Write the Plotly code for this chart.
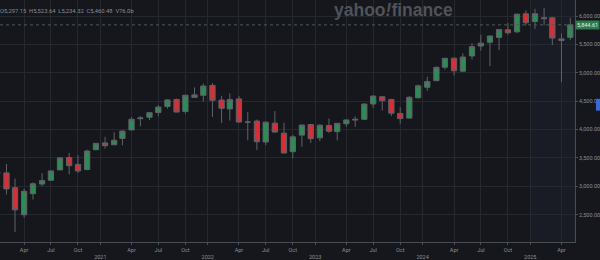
import plotly.graph_objects as go
import pandas as pd

# ---- data (S&P 500 monthly OHLC, Jan 2020 .. May 2025) ----
months = pd.date_range("2020-01-01", "2025-05-01", freq="MS")

opens = [3244.67, 3235.66, 2974.28, 2498.08, 2869.09, 3038.78, 3105.92, 3288.26, 3507.44, 3385.87, 3296.20, 3645.87,
         3764.61, 3731.17, 3842.51, 3992.78, 4191.98, 4216.52, 4300.73, 4406.86, 4528.80, 4317.16, 4610.62, 4602.82,
         4778.14, 4519.57, 4363.14, 4540.32, 4130.61, 4149.78, 3781.00, 4112.38, 3936.73, 3609.78, 3901.79, 4087.14,
         3853.29, 4070.07, 3963.34, 4102.20, 4166.79, 4181.00, 4450.48, 4578.83, 4530.60, 4284.52, 4201.27, 4559.43,
         4745.20, 4861.11, 5098.51, 5257.97, 5029.03, 5297.15, 5471.08, 5537.84, 5623.89, 5757.73, 5723.22, 6040.11,
         5903.26, 5969.65, 5968.33, 5597.53, 5625.14]
highs = [3337.77, 3393.52, 3136.72, 2954.86, 3068.67, 3233.13, 3279.99, 3514.77, 3588.11, 3549.85, 3645.99, 3760.20,
         3870.90, 3950.43, 3983.87, 4218.78, 4238.04, 4302.43, 4429.97, 4537.36, 4545.85, 4608.08, 4743.83, 4808.93,
         4818.62, 4595.31, 4637.30, 4593.45, 4307.66, 4177.51, 4140.15, 4325.28, 4119.28, 3905.42, 4080.11, 4100.96,
         4094.21, 4195.44, 4110.75, 4170.06, 4231.10, 4458.48, 4607.07, 4584.62, 4541.25, 4393.57, 4587.64, 4793.30,
         4931.09, 5111.06, 5264.85, 5263.95, 5341.88, 5523.64, 5669.67, 5651.62, 5767.37, 5878.46, 6044.17, 6099.97,
         6128.18, 6147.43, 5986.09, 5695.31, 5968.61]
lows = [3214.64, 2855.84, 2191.86, 2447.49, 2766.64, 2999.49, 3101.17, 3284.53, 3209.45, 3233.94, 3279.74, 3633.40,
        3662.71, 3725.62, 3723.34, 3992.78, 4056.88, 4164.40, 4233.13, 4367.73, 4305.91, 4278.94, 4560.00, 4495.12,
        4222.62, 4114.65, 4157.87, 4124.28, 3810.32, 3636.87, 3721.56, 3954.53, 3584.13, 3491.58, 3698.15, 3764.49,
        3794.33, 3943.08, 3808.86, 4048.28, 4048.28, 4166.15, 4385.05, 4335.31, 4238.63, 4103.78, 4197.74, 4546.50,
        4682.11, 4853.52, 5056.82, 4953.56, 5011.05, 5234.32, 5390.95, 5119.26, 5402.62, 5674.00, 5696.51, 5832.30,
        5773.31, 5837.66, 5488.73, 4835.04, 5578.64]
closes = [3225.52, 2954.22, 2584.59, 2912.43, 3044.31, 3100.29, 3271.12, 3500.31, 3363.00, 3269.96, 3621.63, 3756.07,
          3714.24, 3811.15, 3972.89, 4181.17, 4204.11, 4297.50, 4395.26, 4522.68, 4307.54, 4605.38, 4567.00, 4766.18,
          4515.55, 4373.94, 4530.41, 4131.93, 4132.15, 3785.38, 4130.29, 3955.00, 3585.62, 3871.98, 4080.11, 3839.50,
          4076.60, 3970.15, 4109.31, 4169.48, 4179.83, 4450.38, 4588.96, 4507.66, 4288.05, 4193.80, 4567.80, 4769.83,
          4845.65, 5096.27, 5254.35, 5035.69, 5277.51, 5460.48, 5522.30, 5648.40, 5762.48, 5705.45, 6032.38, 5881.63,
          6040.53, 5954.50, 5611.85, 5569.06, 5844.61]

last_price = 5844.61
header_text = "O5,297.15\u00a0\u00a0H5,523.64\u00a0\u00a0L5,234.32\u00a0\u00a0C5,460.48\u00a0\u00a0V76.0b"

tick_vals = ["2020-04-01", "2020-07-01", "2020-10-01", "2020-12-16",
             "2021-04-01", "2021-07-01", "2021-10-01", "2021-12-16",
             "2022-04-01", "2022-07-01", "2022-10-01", "2022-12-16",
             "2023-04-01", "2023-07-01", "2023-10-01", "2023-12-16",
             "2024-04-01", "2024-07-01", "2024-10-01", "2024-12-16",
             "2025-04-01"]
tick_text = ["Apr", "Jul", "Oct", "<br>2021",
             "Apr", "Jul", "Oct", "<br>2022",
             "Apr", "Jul", "Oct", "<br>2023",
             "Apr", "Jul", "Oct", "<br>2024",
             "Apr", "Jul", "Oct", "<br>2025",
             "Apr"]
y_ticks = [2500, 3000, 3500, 4000, 4500, 5000, 5500, 6000]

# ---- styles ----
BG = "#15171c"
HL = "#191c25"
GRID = "#25282e"
AXIS = "#4a4d54"
TICK = "#8b8e95"
GREEN = "#2f8a56"
RED = "#d52f38"
WICK = "#5f6268"
FONT = "Roboto"

fig = go.Figure()
fig.add_trace(go.Candlestick(
    x=months, open=opens, high=highs, low=lows, close=closes,
    increasing=dict(line=dict(color=WICK, width=1), fillcolor=GREEN),
    decreasing=dict(line=dict(color=WICK, width=1), fillcolor=RED),
    whiskerwidth=0, showlegend=False, hoverinfo="skip",
))

fig.update_layout(
    width=600, height=260,
    margin=dict(l=0, r=24, t=0, b=15),
    paper_bgcolor=BG, plot_bgcolor=BG,
    boxgap=0.2, boxgroupgap=0.2,
    font=dict(family=FONT, size=5.5, color=TICK),
    xaxis=dict(
        type="date", range=["2020-01-10", "2025-05-17"],
        rangeslider=dict(visible=False),
        tickmode="array", tickvals=tick_vals, ticktext=tick_text,
        showgrid=True, gridcolor=GRID, gridwidth=1,
        ticks="outside", ticklen=2, tickcolor=AXIS,
        showline=True, linecolor=AXIS, linewidth=1,
        zeroline=False, tickfont=dict(size=5.5, color=TICK),
    ),
    yaxis=dict(
        side="right", range=[2018, 6283],
        tickmode="array", tickvals=y_ticks, tickformat=",.2f",
        showgrid=True, gridcolor=GRID, gridwidth=1,
        ticks="outside", ticklen=2, tickcolor=AXIS,
        showline=True, linecolor=AXIS, linewidth=1,
        zeroline=False, tickfont=dict(size=5.5, color=TICK),
    ),
    shapes=[
        dict(type="rect", xref="x", yref="paper", x0="2024-12-16", x1="2025-06-30", y0=0, y1=1,
             fillcolor=HL, line=dict(width=0), layer="below"),
        dict(type="line", xref="paper", yref="y", x0=0, x1=1, y0=last_price, y1=last_price,
             line=dict(color="#4c5d54", width=1, dash="dot")),
        dict(type="rect", xref="paper", yref="y", x0=597 / 576, x1=1.06, y0=4333, y1=4542,
             fillcolor="#3867d6", line=dict(width=0)),
    ],
    annotations=[
        dict(xref="paper", yref="paper", x=-0.004, y=0.955, xanchor="left", yanchor="middle",
             text=header_text, showarrow=False, font=dict(size=5.8, color=TICK, family=FONT)),
        dict(xref="paper", yref="paper", x=394 / 576, y=0.958, xanchor="center", yanchor="middle",
             text="<b>yahoo<i>!</i>finance</b>", showarrow=False,
             font=dict(size=17.5, color="#4f5258", family="Liberation Sans")),
        dict(xref="paper", yref="y", x=1, y=last_price, xanchor="left", yanchor="middle",
             text="5,844.61", showarrow=False, bgcolor="#2d7a4d", borderpad=1,
             font=dict(size=5.5, color="#e3ece6", family=FONT)),
    ],
)

fig.write_html("out.html")
